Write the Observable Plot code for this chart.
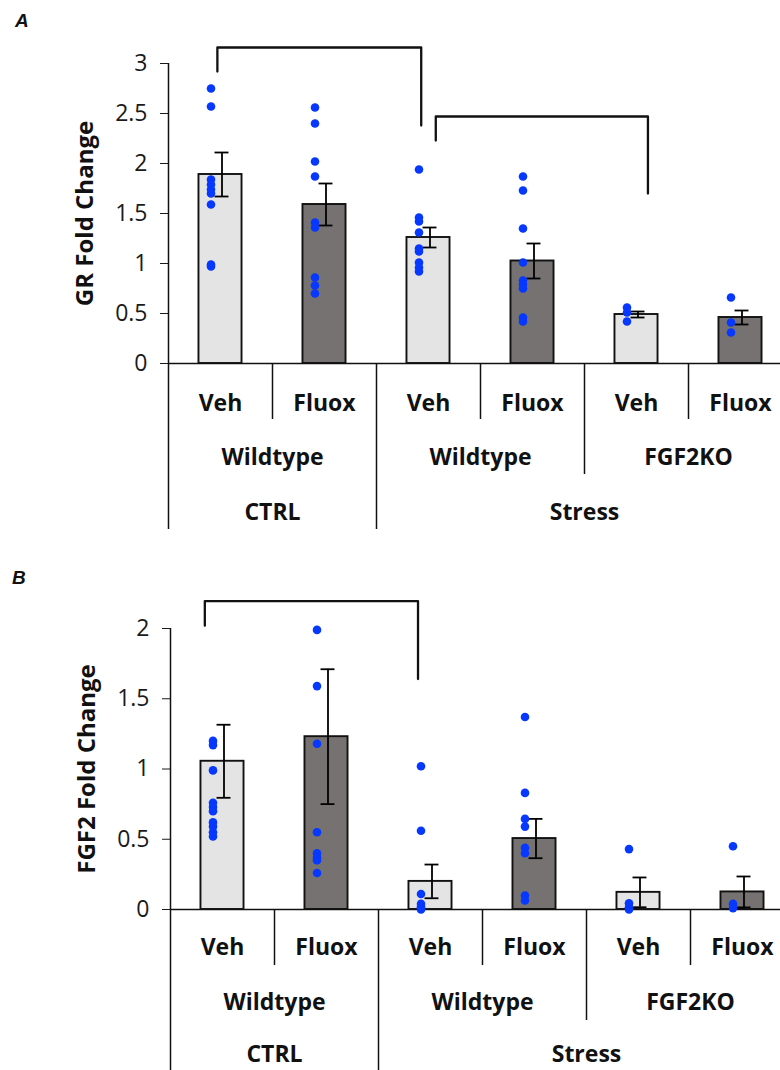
<!DOCTYPE html>
<html><head><meta charset="utf-8">
<script src="https://cdn.jsdelivr.net/npm/d3@7"></script>
<script src="https://cdn.jsdelivr.net/npm/@observablehq/plot@0.6"></script>
<style>
html,body{margin:0;padding:0;background:#fff;}
body{width:780px;height:1070px;overflow:hidden;position:relative;}
.panel{position:absolute;left:0;}
.tag{position:absolute;font:italic bold 19px "Liberation Sans",Arial,sans-serif;line-height:19px;color:#111;}
</style></head><body>
<div class="tag" style="left:15px;top:11px">A</div>
<div id="a" class="panel" style="top:0"></div>
<div class="tag" style="left:12px;top:568px">B</div>
<div id="b" class="panel" style="top:540px"></div>
<script>
// ---- categories ----
const treatments = ["Veh", "Fluox", "Veh", "Fluox", "Veh", "Fluox"];
const genotypeLabels = ["Wildtype", "Wildtype", "FGF2KO"];   // each spans 2 bars
const conditionLabels = ["CTRL", "Stress"];
const conditionSpans = [2, 4];

// ---- Panel A: GR fold change ----
const grMean = [1.89, 1.59, 1.26, 1.025, 0.49, 0.46];
const grSem  = [0.22, 0.21, 0.10, 0.175, 0.03, 0.07];
const grPoints = [
  [2.75, 2.57, 1.84, 1.79, 1.74, 1.70, 1.59, 0.99, 0.97],
  [2.56, 2.40, 2.02, 1.87, 1.41, 1.36, 0.86, 0.78, 0.70],
  [1.94, 1.46, 1.42, 1.31, 1.15, 1.12, 1.01, 0.96, 0.92],
  [1.87, 1.73, 1.35, 1.01, 0.83, 0.79, 0.75, 0.46, 0.42],
  [0.56, 0.51, 0.42],
  [0.66, 0.41, 0.31]
];
const grBracketFrom = [-0.03, 2.07];
const grBracketTo = [1.93, 4.11];
const grBracketTop = [3.16, 2.47];
const grBracketLeftEnd = [2.92, 2.23];
const grBracketRightEnd = [2.38, 1.70];
const grTicks = [0, 0.5, 1, 1.5, 2, 2.5, 3];

// ---- Panel B: FGF2 fold change ----
const fgfMean = [1.055, 1.23, 0.20, 0.505, 0.122, 0.125];
const fgfSem  = [0.26, 0.48, 0.12, 0.14, 0.106, 0.11];
const fgfPoints = [
  [1.20, 1.17, 0.99, 0.76, 0.73, 0.70, 0.62, 0.59, 0.55, 0.52],
  [1.99, 1.59, 1.18, 0.55, 0.40, 0.37, 0.35, 0.26],
  [1.02, 0.56, 0.11, 0.04, 0.02, 0.01, 0.0],
  [1.37, 0.83, 0.645, 0.59, 0.44, 0.40, 0.10, 0.064],
  [0.43, 0.045, 0.016, 0.0],
  [0.45, 0.04, 0.01]
];
const fgfBracketFrom = [-0.17];
const fgfBracketTo = [1.88];
const fgfBracketTop = [2.195];
const fgfBracketLeftEnd = [2.02];
const fgfBracketRightEnd = [1.64];
const fgfTicks = [0, 0.5, 1, 1.5, 2];

const FONT = "'Open Sans', Lato, sans-serif";

function drawPanel(el, cfg) {
  const {mean, sem, points, bFrom, bTo, bTop, bL, bR, yMax, yTicks, yLabel, left, yTopPx, yZeroPx, height, rowPx} = cfg;
  const k = (yZeroPx - yTopPx) / yMax;          // px per unit
  const depth = px => -px / k;                   // px below baseline -> data units
  const bars = treatments.map((t, i) => ({i, t, m: mean[i], s: sem[i]}));
  const dots = points.flatMap((arr, i) => arr.map(v => ({i, v})));
  const brackets = bFrom.flatMap((f, j) => [
    {j, x: f, y: bL[j]}, {j, x: f, y: bTop[j]},
    {j, x: bTo[j], y: bTop[j]}, {j, x: bTo[j], y: bR[j]}
  ]);
  // boundaries between bars and their hierarchy depth (1 = treatment, 2 = genotype, 3 = condition)
  const boundaries = d3.range(7).map(b => ({x: b - 0.5, level: (b === 0 || b === 2 || b === 6) ? 3 : (b === 4 ? 2 : 1)}));
  const divPx = [56, 111, 166];
  const genoRows = genotypeLabels.map((g, j) => ({g, x: 2 * j + 0.5}));
  let acc = 0;
  const condRows = conditionLabels.map((c, j) => { const x = acc + conditionSpans[j] / 2 - 0.5; acc += conditionSpans[j]; return {c, x}; });
  const halfBar = 0.207, halfCap = 0.067;
  const lab = {fontWeight: "bold", fontSize: 23, fill: "#111"};

  const chart = Plot.plot({
    width: 780, height,
    marginLeft: left, marginRight: 780 - (left + 624), marginTop: yTopPx, marginBottom: height - yZeroPx,
    x: {type: "linear", domain: [-0.5, 5.5], range: [left, left + 624], axis: null},
    y: {domain: [0, yMax], range: [yZeroPx, yTopPx], ticks: yTicks, tickSize: 8, tickPadding: 13, label: null, tickFormat: d => String(d)},
    color: {domain: ["Veh", "Fluox"], range: ["#e4e4e4", "#767272"]},
    style: {fontFamily: FONT, fontSize: "23px", color: "#1a1a1a", overflow: "visible", background: "transparent"},
    marks: [
      Plot.rect(bars, {x1: d => d.i - halfBar, x2: d => d.i + halfBar, y1: 0, y2: "m", fill: "t", stroke: "#111", strokeWidth: 1.9}),
      Plot.ruleY([0], {stroke: "#111", strokeWidth: 1.5}),
      Plot.ruleX(boundaries, {x: "x", y1: d => d.x === -0.5 ? yMax : 0, y2: d => depth(divPx[d.level - 1]), stroke: "#111", strokeWidth: 1.5}),
      Plot.ruleX(bars, {x: "i", y1: d => d.m - d.s, y2: d => d.m + d.s, dx: 1.5, stroke: "#000", strokeWidth: 1.8}),
      Plot.ruleY(bars, {x1: d => d.i - halfCap, x2: d => d.i + halfCap, y: d => d.m + d.s, dx: 1.5, stroke: "#000", strokeWidth: 1.8}),
      Plot.ruleY(bars, {x1: d => d.i - halfCap, x2: d => d.i + halfCap, y: d => d.m - d.s, dx: 1.5, stroke: "#000", strokeWidth: 1.8}),
      Plot.dot(dots, {x: "i", y: "v", r: 4.3, fill: "#0638ff", dx: -9.5}),
      Plot.line(brackets, {x: "x", y: "y", z: "j", stroke: "#111", strokeWidth: 2.3, curve: "linear"}),
      Plot.text(treatments, {x: (d, i) => i, y: 0, dy: rowPx[0], text: d => d, ...lab}),
      Plot.text(genoRows, {x: "x", y: 0, dy: rowPx[1], text: "g", ...lab}),
      Plot.text(condRows, {x: "x", y: 0, dy: rowPx[2], text: "c", ...lab}),
      Plot.text([yLabel], {frameAnchor: "left", textAnchor: "middle", rotate: -90, dx: -83, text: d => d, fontWeight: "bold", fontSize: 24, fill: "#111"})
    ]
  });
  document.getElementById(el).appendChild(chart);
}

drawPanel("a", {mean: grMean, sem: grSem, points: grPoints, bFrom: grBracketFrom, bTo: grBracketTo, bTop: grBracketTop,
  bL: grBracketLeftEnd, bR: grBracketRightEnd, yMax: 3, yTicks: grTicks, yLabel: "GR Fold Change",
  left: 168, yTopPx: 63, yZeroPx: 363, height: 540, rowPx: [40, 94, 149]});
drawPanel("b", {mean: fgfMean, sem: fgfSem, points: fgfPoints, bFrom: fgfBracketFrom, bTo: fgfBracketTo, bTop: fgfBracketTop,
  bL: fgfBracketLeftEnd, bR: fgfBracketRightEnd, yMax: 2, yTicks: fgfTicks, yLabel: "FGF2 Fold Change",
  left: 170, yTopPx: 88, yZeroPx: 369, height: 530, rowPx: [38, 93, 145]});
</script>
</body></html>
